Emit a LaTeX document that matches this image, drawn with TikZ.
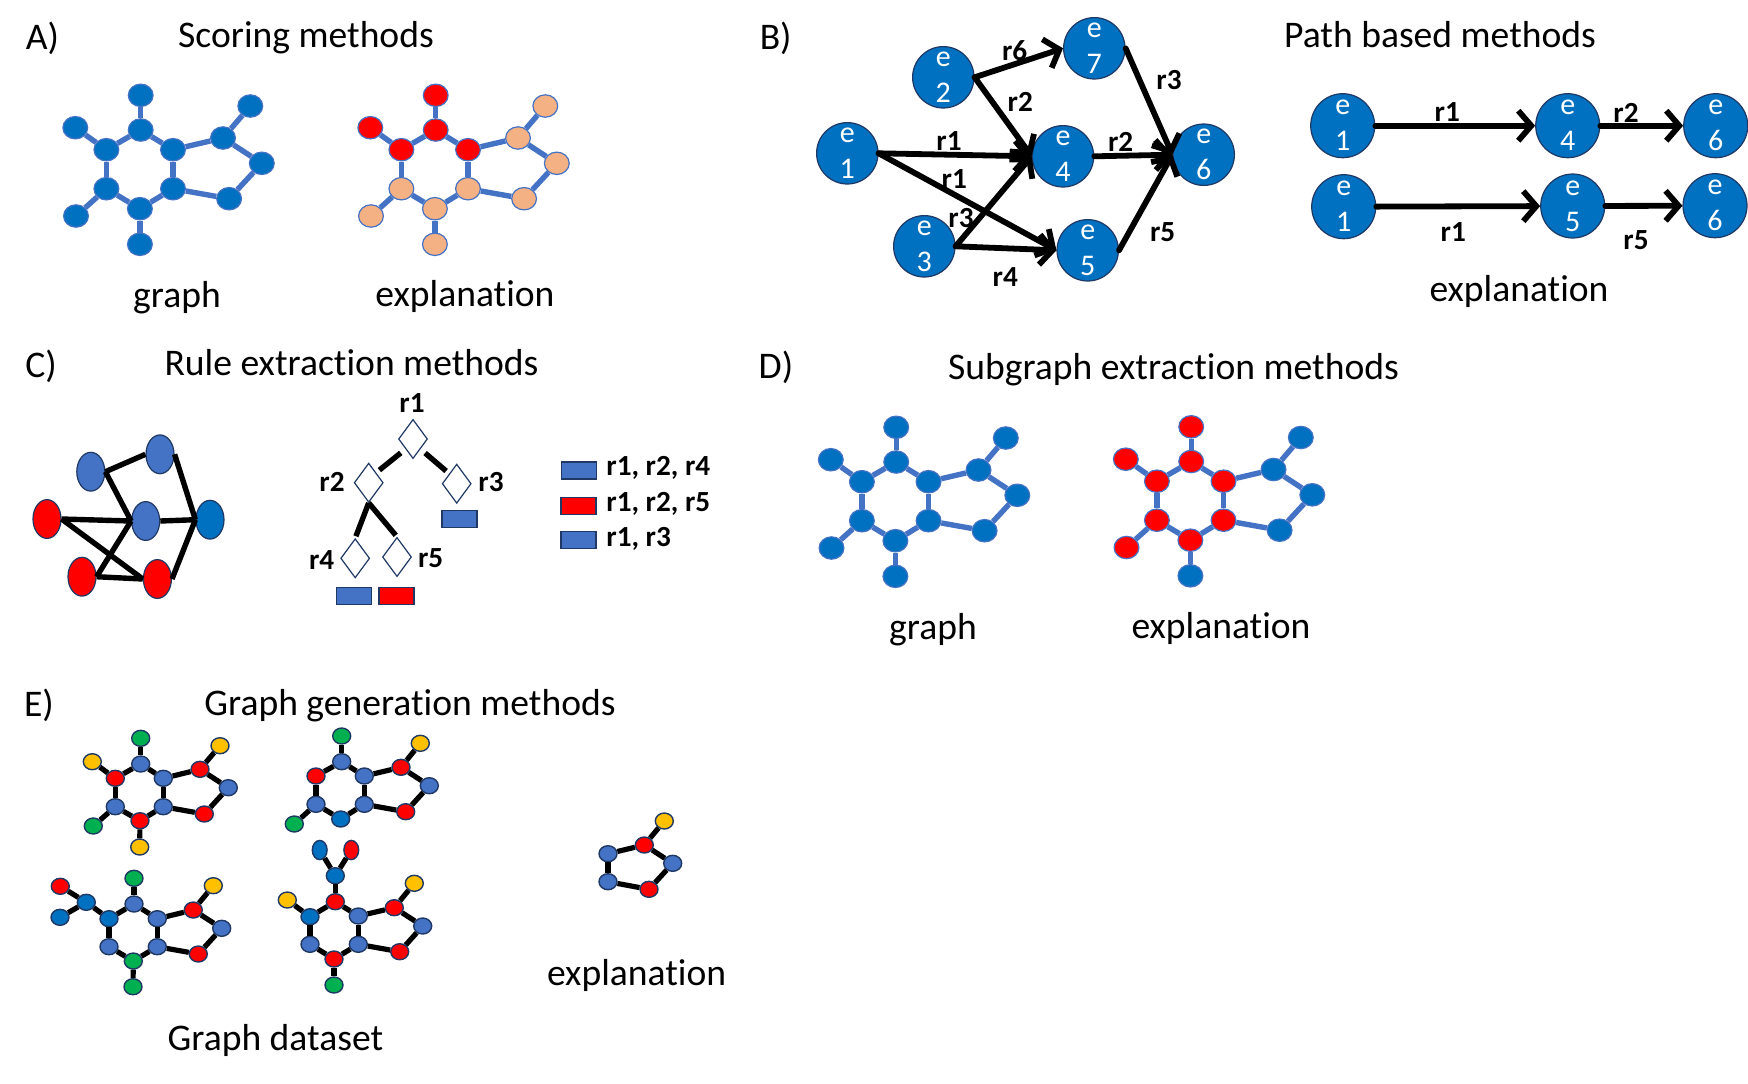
\documentclass[tikz,border=0pt]{standalone}
\usepackage{fontspec}
\setmainfont{Carlito}[Ligatures=NoCommon]
\usetikzlibrary{arrows.meta,shapes.geometric}

\definecolor{nodeblue}{HTML}{0070C0}
\definecolor{edgeblue}{HTML}{4472C4}
\definecolor{nodetan}{HTML}{F4B183}
\definecolor{nodered}{HTML}{FF0000}
\definecolor{nodegreen}{HTML}{00B050}
\definecolor{nodeyellow}{HTML}{FFC000}
\definecolor{rimdark}{HTML}{1F3864}

\tikzset{
  title/.style={font=\fontsize{18.8}{22}\selectfont, anchor=base, inner sep=0},
  rlabel/.style={font=\fontsize{14.6}{16}\selectfont\bfseries, inner sep=0},
  dot/.style={ellipse, inner sep=0, minimum width=12.4pt, minimum height=11.2pt, draw=edgeblue, line width=.6pt},
  dotblue/.style={dot, fill=nodeblue},
  dotred/.style={dot, fill=nodered},
  dottan/.style={dot, fill=nodetan},
  bondblue/.style={draw=edgeblue, line width=2.7pt},
  mini/.style={ellipse, inner sep=0, minimum width=9pt, minimum height=8pt, draw=rimdark, line width=.7pt},
  mblue/.style={mini, fill=edgeblue},
  mdeep/.style={mini, fill=nodeblue},
  mred/.style={mini, fill=nodered},
  mgreen/.style={mini, fill=nodegreen},
  myellow/.style={mini, fill=nodeyellow},
  mtalldeep/.style={mdeep, minimum width=7.4pt, minimum height=9.6pt},
  mtallred/.style={mred, minimum width=7.4pt, minimum height=9.6pt},
  bondblack/.style={draw=black, line width=2.6pt},
  entity/.style={circle, draw=rimdark, fill=nodeblue, line width=.6pt, inner sep=0, minimum size=30.7pt,
    align=center, text=white, font=\fontsize{15}{18}\selectfont},
  entitybig/.style={entity, minimum size=32pt},
  relarrow/.style={-{Straight Barb[length=6.5pt,width=15pt]}, line width=2.9pt, line cap=round},
  oval/.style={ellipse, inner sep=0, minimum width=14pt, minimum height=19.4pt, draw=rimdark, line width=.6pt},
  ovalblue/.style={oval, fill=edgeblue},
  ovaldeep/.style={oval, fill=nodeblue},
  ovalred/.style={oval, fill=nodered},
  rulelink/.style={line width=2.7pt},
  choice/.style={diamond, draw=rimdark, fill=white, line width=.6pt, inner sep=0, minimum width=14.5pt, minimum height=19.6pt},
  leaf/.style={rectangle, draw=rimdark, line width=.8pt, inner sep=0, minimum width=17.5pt, minimum height=8.6pt},
  leafblue/.style={leaf, fill=edgeblue},
  leafred/.style={leaf, fill=nodered}
}

% ring graph of panels A and D: prefix, shift, styles of the three node groups
\newcommand{\ringgraph}[5]{%
  \begin{scope}[shift={(#2)}]
    \foreach \nam/\px/\py/\sty in {t/141.2/95.3/#3, b/75.8/127.7/#3, c/106.9/149.7/#3, d/141.2/130/#3, e/173.5/149.7/#3,
      f/223.5/138/#5, g/250.8/106/#5, h/262.3/163.3/#5, i/229.6/198.7/#5, n/140.4/244.3/#5,
      j/173.5/188.7/#4, k/140.4/208.7/#4, l/106.9/188.7/#4, m/76.5/216/#4}
      \node[\sty] (#1\nam) at (\px,\py) {};
    \foreach \from/\to in {t/d, b/c, c/d, d/e, e/f, f/g, f/h, h/i, i/j, j/e, j/k, k/l, l/c, l/m, k/n}
      \draw[bondblue] (#1\from) -- (#1\to);
  \end{scope}}

\begin{document}
\begin{tikzpicture}[x=.5pt, y=-.5pt]
    \useasboundingbox (0,0) rectangle (1748,1083);

    % Scoring methods
    \node[title] (tagA) at (42.5,49) {A)};
    \node[title] (titleA) at (306,47.5) {Scoring methods};
    \ringgraph{ag}{-0.5,0}{dotblue}{dotblue}{dotblue}
    \ringgraph{ax}{294.5,0}{dotred}{dottan}{dottan}
    \node[title] (graphA) at (177,307.5) {graph};
    \node[title] (explA) at (465,306.5) {explanation};

    % Path based methods: the full graph
    \node[title] (tagB) at (775.7,49) {B)};
    \node[title] (titleB) at (1440,47.5) {Path based methods};
    \node[entity] (be1) at (847.3,153.3) {e\\1};
    \node[entity] (be2) at (943.3,77.3) {e\\2};
    \node[entity] (be3) at (924.3,246.3) {e\\3};
    \node[entity] (be4) at (1063,156.3) {e\\4};
    \node[entity] (be5) at (1087.7,250.3) {e\\5};
    \node[entity] (be6) at (1203.7,154.7) {e\\6};
    \node[entity] (be7) at (1094.3,48.3) {e\\7};
    \draw[relarrow] (be2.east) -- (be7.west);
    \draw[relarrow] (be2.east) -- (be4.west);
    \draw[relarrow] (be1.east) -- (be4.west);
    \draw[relarrow] (be1.east) -- (be5.west);
    \draw[relarrow] (be3.east) -- (be4.west);
    \draw[relarrow] (be3.east) -- (be5.west);
    \draw[relarrow] (be7.east) -- (be6.west);
    \draw[relarrow] (be4.east) -- (be6.west);
    \draw[relarrow] (be5.east) -- (be6.west);
    \node[rlabel] (lb26) at (1014.7,50.7) {r6};
    \node[rlabel] (lb24) at (1020.3,101.7) {r2};
    \node[rlabel] (lb76) at (1169,80) {r3};
    \node[rlabel] (lb14) at (949,140.7) {r1};
    \node[rlabel] (lb46) at (1120.7,142.3) {r2};
    \node[rlabel] (lb15) at (954.3,179) {r1};
    \node[rlabel] (lb34) at (961,218.3) {r3};
    \node[rlabel] (lb56) at (1162.7,231.7) {r5};
    \node[rlabel] (lb35) at (1005.3,276.7) {r4};

    % Path based methods: the two paths
    \node[entitybig] (pa1) at (1342.7,125.7) {e\\1};
    \node[entitybig] (pa4) at (1567.7,125.7) {e\\4};
    \node[entitybig] (pa6) at (1715.7,125.7) {e\\6};
    \node[entitybig] (pb1) at (1343.7,206.7) {e\\1};
    \node[entitybig] (pb5) at (1572.7,206) {e\\5};
    \node[entitybig] (pb6) at (1715,205.7) {e\\6};
    \draw[relarrow] (pa1) -- (pa4);
    \draw[relarrow] (pa4) -- (pa6);
    \draw[relarrow] (pb1) -- (pb5);
    \draw[relarrow] (pb5) -- (pb6);
    \node[rlabel] (lpa1) at (1447.3,112.3) {r1};
    \node[rlabel] (lpa2) at (1626,112.7) {r2};
    \node[rlabel] (lpb1) at (1453.3,232.3) {r1};
    \node[rlabel] (lpb5) at (1636,240) {r5};
    \node[title] (explB) at (1519,301.5) {explanation};

    % Rule extraction methods: the graph
    \node[title] (tagC) at (41,377) {C)};
    \node[title] (titleC) at (351.5,375) {Rule extraction methods};
    \node[ovalblue] (g1) at (90.8,471.7) {};
    \node[ovalblue] (g2) at (160,454.3) {};
    \node[ovalred] (g3) at (47,519) {};
    \node[ovalblue] (g4) at (145.7,521) {};
    \node[ovaldeep] (g5) at (210,519.7) {};
    \node[ovalred] (g6) at (82,576.7) {};
    \node[ovalred] (g7) at (157.4,579) {};
    \draw[rulelink] (g1.east) -- (g2.west);
    \draw[rulelink] (g1.east) -- (g4.west);
    \draw[rulelink] (g2.east) -- (g5.west);
    \draw[rulelink] (g3.east) -- (g4.west);
    \draw[rulelink] (g4.east) -- (g5.west);
    \draw[rulelink] (g3.east) -- (g7.west);
    \draw[rulelink] (g4.west) -- (g6.east);
    \draw[rulelink] (g6.east) -- (g7.west);
    \draw[rulelink] (g5.west) -- (g7.east);

    % Rule extraction methods: the tree
    \node[choice] (d1) at (413,439) {};
    \node[choice] (d2) at (368.7,482.7) {};
    \node[choice] (d3) at (456.7,483.7) {};
    \node[choice] (d4) at (355.2,558.3) {};
    \node[choice] (d5) at (397,557) {};
    \draw[rulelink, shorten <=3pt, shorten >=2pt] (d1.south west) -- (d2.north east);
    \draw[rulelink, shorten <=3pt, shorten >=2pt] (d1.south east) -- (d3.north west);
    \draw[rulelink, shorten >=1pt] (d2.south) -- (d4.north);
    \draw[rulelink, shorten >=1pt] (d2.south) -- (d5.north);
    \node[rlabel] (ld1) at (412,403.3) {r1};
    \node[rlabel] (ld2) at (332,481.7) {r2};
    \node[rlabel] (ld3) at (491,482.3) {r3};
    \node[rlabel] (ld4) at (321.7,560) {r4};
    \node[rlabel] (ld5) at (430.6,558.3) {r5};
    \node[leafblue] (f3) at (459.5,519) {};
    \node[leafblue] (f4) at (353.8,596) {};
    \node[leafred] (f5) at (396.2,596) {};

    % Rule extraction methods: the legend
    \node[leafblue] (k1) at (579,470.3) {};
    \node[leafred] (k2) at (578.2,506) {};
    \node[leafblue] (k3) at (578.7,540) {};
    \node[rlabel, anchor=base west] (t1) at (606,475.5) {r1, r2, r4};
    \node[rlabel, anchor=base west] (t2) at (606,511.5) {r1, r2, r5};
    \node[rlabel, anchor=base west] (t3) at (606,546) {r1, r3};

    % Subgraph extraction methods
    \node[title] (tagD) at (776,378.5) {D)};
    \node[title] (titleD) at (1173.5,379.5) {Subgraph extraction methods};
    \ringgraph{dg}{755,332}{dotblue}{dotblue}{dotblue}
    \ringgraph{dx}{1050,331.5}{dotred}{dotred}{dotblue}
    \node[title] (graphD) at (933,639) {graph};
    \node[title] (explD) at (1221,638.7) {explanation};

    % Graph generation methods: four molecules
    \node[title] (tagE) at (39,716.6) {E)};
    \node[title] (titleE) at (410,715.5) {Graph generation methods};
    \foreach \nam/\px/\py/\sty in {t/140.7/738.3/mgreen, b/92.3/761.7/myellow, c/115.3/778.3/mred, d/140.7/764/mblue,
      e/163.3/778.3/mblue, f/200/769.3/mred, g/220/745.7/myellow, h/228.3/787.7/mblue, i/204.3/814/mred,
      j/163.3/806.7/mblue, k/140/820.7/mred, l/115.3/806.7/mblue, m/93.3/826/mgreen, n/139.7/847/myellow}
      \node[\sty] (one\nam) at (\px,\py) {};
    \foreach \from/\to in {t/d, b/c, c/d, d/e, e/f, f/g, f/h, h/i, i/j, j/e, j/k, k/l, l/c, l/m, k/n}
      \draw[bondblack] (one\from) -- (one\to);

    \foreach \nam/\px/\py/\sty in {t/341.7/736/mgreen, c/316/776/mred, d/341.7/761.7/mblue, e/364.3/776/mblue,
      f/401/767.3/mred, g/420.3/743.3/myellow, h/429.3/785.7/mblue, i/405.7/811.7/mred,
      j/364.3/804.3/mblue, k/340.7/819/mdeep, l/316/804.3/mblue, m/294.3/824/mgreen}
      \node[\sty] (two\nam) at (\px,\py) {};
    \foreach \from/\to in {t/d, c/d, d/e, e/f, f/g, f/h, h/i, i/j, j/e, j/k, k/l, l/c, l/m}
      \draw[bondblack] (two\from) -- (two\to);

    \foreach \nam/\px/\py/\sty in {o/60.3/886.3/mred, p/60/917.3/mdeep, q/86.3/902.3/mdeep, c/109/918.7/mdeep,
      d/134/904/mblue, t/134/878.3/mgreen, e/157.3/918.7/mblue, f/193.3/910/mred, g/213.3/885.7/myellow,
      h/221.7/928.3/mblue, i/198.3/954/mred, j/157.3/946.7/mblue, k/133.3/961/mgreen, l/109/946.7/mblue, n/133/986.7/mgreen}
      \node[\sty] (thr\nam) at (\px,\py) {};
    \foreach \from/\to in {o/q, p/q, q/c, c/d, d/t, d/e, e/f, f/g, f/h, h/i, i/j, j/e, j/k, k/l, l/c, k/n}
      \draw[bondblack] (thr\from) -- (thr\to);

    \foreach \nam/\px/\py/\sty in {o/319.7/850/mtalldeep, p/351.3/850/mtallred, q/335.3/875.7/mdeep, d/335.3/901.7/mred,
      b/287.3/900/myellow, c/310/916.7/mdeep, e/358.3/916/mblue, f/394.3/907.7/mred, g/414.3/883.3/myellow,
      h/422.7/926/mblue, i/399.7/951.7/mred, j/358.3/944.3/mblue, k/334/959/mred, l/310/944.3/mblue, n/334/985/mgreen}
      \node[\sty] (fou\nam) at (\px,\py) {};
    \foreach \from/\to in {o/q, p/q, q/d, d/c, d/e, b/c, e/f, f/g, f/h, h/i, i/j, j/e, j/k, k/l, l/c, k/n}
      \draw[bondblack] (fou\from) -- (fou\to);
    \node[title] (setE) at (275.4,1050.5) {Graph dataset};

    % Graph generation methods: the explanation
    \node[myellow] (xg) at (664.3,821) {};
    \node[mred] (xf) at (644.3,845) {};
    \node[mblue] (xh) at (672.7,863.3) {};
    \node[mred] (xi) at (649,889.3) {};
    \node[mblue] (xa) at (608,881.7) {};
    \node[mblue] (xb) at (608,853.7) {};
    \draw[bondblack] (xg) -- (xf);
    \draw[bondblack] (xf) -- (xb);
    \draw[bondblack] (xf) -- (xh);
    \draw[bondblack] (xh) -- (xi);
    \draw[bondblack] (xi) -- (xa);
    \draw[bondblack] (xa) -- (xb);
    \node[title] (explE) at (636.6,985) {explanation};
\end{tikzpicture}
\end{document}
